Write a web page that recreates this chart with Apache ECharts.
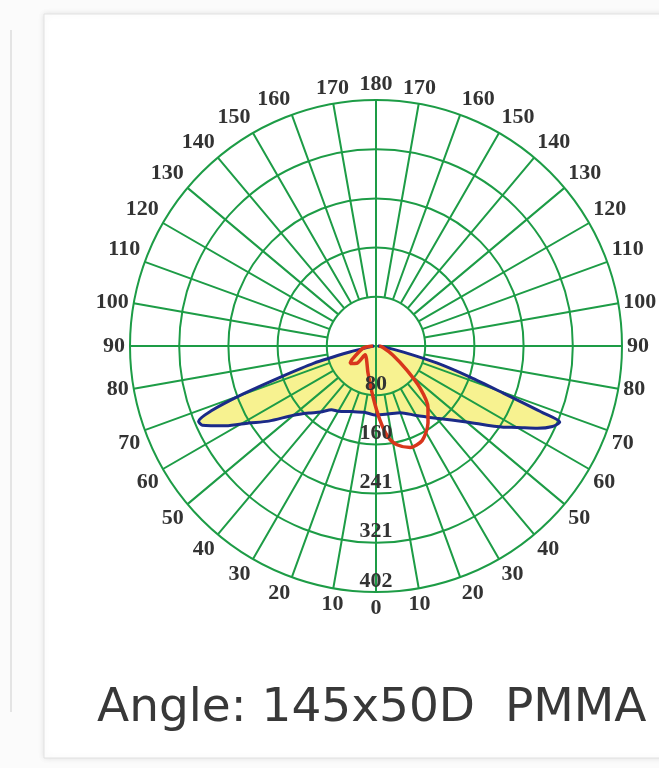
<!DOCTYPE html>
<html>
<head>
<meta charset="utf-8">
<script src="https://cdn.jsdelivr.net/npm/echarts@6/dist/echarts.min.js"></script>
<style>
html,body{margin:0;padding:0;background:#fbfbfb;}
#chart{width:659px;height:768px;}
</style>
</head>
<body>
<div id="chart"></div>
<script>
// Ring (radius) tick labels, outermost = 402
const ringLabels = ['80', '160', '241', '321', '402'];
const radiusMax = 402;

// Blue curve (yellow filled): signed angle in degrees (negative = left side), intensity
const blueAngles = [-90, -82, -77, -74.5, -72, -70, -68.5, -67, -65.5, -62, -58.8, -55, -50, -45, -40, -35, -30, -20, -10, 0,
                    10, 20, 30, 40, 50, 57.5, 60, 63, 65.5, 67.5, 68.2, 69.7, 71.7, 74.4, 77.5, 82, 90];
const blueValues = [3, 10, 44, 106, 163, 237, 290, 315, 312, 278, 243, 214, 176, 155, 141, 127, 123, 114, 110, 113,
                    113, 116, 131, 154, 193, 247, 266, 296, 317, 325, 294, 221, 162, 103, 46, 16, 3];

// Red curve (outline only), in drawing order
const redAngles = [-90, -81, -60, -56, -48, -51, -16.5, -3.4, 3, 7.5, 12, 18.6, 26, 34, 40.4, 46.3, 52, 62, 80, 90];
const redValues = [5, 21, 46, 51, 42, 23, 46, 83, 121, 150, 165, 175, 172, 152, 131, 100, 64, 31, 11, 5];

const titleText = 'Angle: 145x50D  PMMA';

const green = '#1d9c46';
const blue = '#1b2a88';
const red = '#d8361c';
const yellow = '#f7f290';
const labelFont = 'Liberation Serif';

function toAxisAngle(t) { return t <= 0 ? -t : 360 - t; }
const blueData = blueValues.map((v, i) => [v, toAxisAngle(blueAngles[i])]);
const redData = redValues.map((v, i) => [v, toAxisAngle(redAngles[i])]);

const chart = echarts.init(document.getElementById('chart'));
const center = [376, 346];
const R = 246;
const gridLine = { show: true, lineStyle: { color: green, width: 2 } };

chart.setOption({
  backgroundColor: '#fbfbfb',
  animation: false,
  graphic: [
    { type: 'line', z: 0, shape: { x1: 11, y1: 30, x2: 11, y2: 712 }, style: { stroke: '#e4e4e4', lineWidth: 2 } },
    { type: 'rect', z: 0, shape: { x: 44, y: 14, width: 640, height: 744 },
      style: { fill: '#ffffff', stroke: '#e2e2e2', lineWidth: 1, shadowBlur: 6, shadowColor: 'rgba(0,0,0,0.10)' } },
    { type: 'text', z: 10, left: 97, top: 685,
      style: { text: titleText, fontFamily: 'DejaVu Sans', fontSize: 47, fill: '#383838' } }
  ],
  polar: [
    { center: center, radius: [0, R] },
    { center: center, radius: [R / 5, R] }
  ],
  angleAxis: [
    { polarIndex: 0, type: 'value', min: 0, max: 360, interval: 90, startAngle: 270, clockwise: true,
      axisLine: { show: false }, axisTick: { show: false }, axisLabel: { show: false },
      splitLine: gridLine, z: 3 },
    { polarIndex: 1, type: 'value', min: 0, max: 360, interval: 10, startAngle: 270, clockwise: true,
      axisLine: { show: false }, axisTick: { show: false },
      axisLabel: { show: true, margin: 5, fontFamily: labelFont, fontSize: 22, fontWeight: 'bold', color: '#333333',
        formatter: v => String(v <= 180 ? v : 360 - v) },
      splitLine: gridLine, z: 3 }
  ],
  radiusAxis: [
    { polarIndex: 0, type: 'value', min: 0, max: radiusMax, interval: radiusMax / 5,
      axisLine: { show: false }, axisTick: { show: false }, axisLabel: { show: false },
      splitLine: gridLine, z: 3 },
    { polarIndex: 1, type: 'value', min: radiusMax / 5, max: radiusMax, interval: radiusMax / 5,
      axisLine: { show: false }, axisTick: { show: false }, splitLine: { show: false },
      axisLabel: { show: true, margin: 0, align: 'center', verticalAlign: 'bottom',
        fontFamily: labelFont, fontSize: 22, fontWeight: 'bold', color: '#333333',
        formatter: v => ringLabels[Math.round(v / (radiusMax / 5)) - 1] || '' },
      z: 7 }
  ],
  series: [
    { type: 'line', coordinateSystem: 'polar', polarIndex: 0, data: blueData, symbol: 'none', smooth: 0.25,
      lineStyle: { width: 0 }, areaStyle: { color: yellow, opacity: 1 }, z: 1, silent: true },
    { type: 'line', coordinateSystem: 'polar', polarIndex: 0, data: blueData, symbol: 'none', smooth: 0.25,
      lineStyle: { color: blue, width: 3 }, z: 5 },
    { type: 'line', coordinateSystem: 'polar', polarIndex: 0, data: redData, symbol: 'none', smooth: 0.25,
      lineStyle: { color: red, width: 3.5 }, z: 5 }
  ]
});
</script>
</body>
</html>
